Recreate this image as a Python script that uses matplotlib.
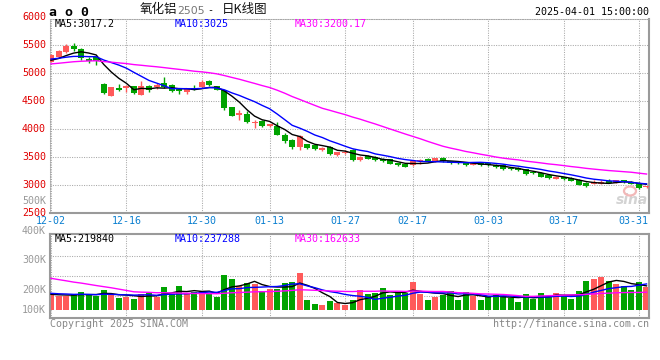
import numpy as np
import pandas as pd
import matplotlib
matplotlib.use("Agg")
import matplotlib.pyplot as plt
from matplotlib.transforms import blended_transform_factory
from matplotlib.patches import Ellipse

# ---------------- data ----------------
symbol_code = "a o 0"
title_name = "氧化铝"
title_code = "2505"
title_tail = "日K线图"
timestamp = "2025-04-01 15:00:00"

date_labels = ["12-02", "12-16", "12-30", "01-13", "01-27", "02-17", "03-03", "03-17", "03-31"]
date_label_index = [0, 10, 20, 29, 39, 48, 58, 68, 78]

price_ticks = [6000, 5500, 5000, 4500, 4000, 3500, 3000, 2500]
vol_tick_labels = ["500K", "400K", "300K", "200K", "100K"]

ma_price_text = ["MA5:3017.2", "MA10:3025", "MA30:3200.17"]
ma_vol_text = ["MA5:219840", "MA10:237288", "MA30:162633"]

# closes of the 29 sessions before the window (for moving averages)
prior_close = [5050, 5080, 5020, 5000, 5060, 5110, 5090, 5050, 5100, 5140,
               5180, 5150, 5120, 5160, 5200, 5170, 5130, 5180, 5220, 5190,
               5250, 5300, 5280, 5260, 5260, 5240, 5230, 5200, 5150]
prior_vol = [480e3, 450e3, 500e3, 430e3, 470e3, 460e3, 490e3, 440e3, 470e3, 480e3, 467e3,
             240e3, 210e3, 230e3, 200e3, 220e3, 250e3, 190e3, 223e3, 210e3,
             170e3, 150e3, 180e3, 155e3, 155e3,
             150e3, 140e3, 152e3, 140e3]

opens = [5205, 5281, 5376, 5488, 5423, 5252, 5281, 4809, 4596, 4738,
         4726, 4761, 4614, 4761, 4749, 4820, 4791, 4714, 4655, 4740,
         4749, 4850, 4761, 4690, 4395, 4259, 4277, 4111, 4141, 4052,
         4064, 3904, 3804, 3686, 3727, 3709, 3627, 3686, 3544, 3580,
         3627, 3449, 3520, 3508, 3473, 3461, 3390, 3372, 3355, 3428,
         3471, 3424, 3483, 3424, 3412, 3412, 3365, 3400, 3388, 3365,
         3353, 3306, 3306, 3282, 3235, 3217, 3176, 3120, 3140, 3128,
         3095, 3047, 3030, 3024, 3070, 3045, 3090, 3060, 3040, 2965]
highs = [5335, 5410, 5518, 5541, 5450, 5290, 5305, 4815, 4755, 4800,
         4790, 4775, 4850, 4790, 4820, 4927, 4810, 4730, 4730, 4790,
         4880, 4870, 4775, 4702, 4400, 4345, 4320, 4170, 4160, 4100,
         4123, 3934, 3828, 3887, 3740, 3720, 3680, 3700, 3600, 3630,
         3640, 3520, 3535, 3520, 3490, 3470, 3400, 3385, 3440, 3473,
         3485, 3490, 3495, 3440, 3425, 3420, 3410, 3410, 3395, 3375,
         3365, 3320, 3320, 3290, 3245, 3230, 3185, 3165, 3150, 3140,
         3110, 3060, 3085, 3100, 3110, 3095, 3100, 3070, 3050, 2990]
lows = [5195, 5270, 5352, 5400, 5230, 5175, 5150, 4635, 4590, 4680,
        4655, 4625, 4610, 4665, 4715, 4730, 4655, 4625, 4625, 4690,
        4730, 4770, 4690, 4347, 4230, 4170, 4110, 4023, 4040, 4040,
        3900, 3756, 3650, 3627, 3650, 3625, 3615, 3540, 3530, 3560,
        3440, 3440, 3460, 3440, 3420, 3375, 3345, 3320, 3345, 3378,
        3410, 3415, 3420, 3385, 3380, 3345, 3355, 3345, 3345, 3310,
        3275, 3270, 3255, 3190, 3195, 3145, 3110, 3105, 3095, 3070,
        3000, 2975, 3020, 3015, 3040, 3040, 3040, 3020, 2935, 2955]
closes = [5323, 5394, 5488, 5423, 5264, 5216, 5222, 4643, 4749, 4702,
          4773, 4643, 4773, 4702, 4791, 4749, 4684, 4673, 4714, 4702,
          4832, 4791, 4702, 4377, 4241, 4288, 4123, 4135, 4052, 4093,
          3904, 3786, 3686, 3875, 3668, 3638, 3668, 3550, 3591, 3600,
          3449, 3508, 3473, 3449, 3430, 3384, 3360, 3331, 3432, 3433,
          3424, 3483, 3424, 3400, 3388, 3353, 3400, 3353, 3353, 3317,
          3282, 3282, 3270, 3199, 3211, 3152, 3128, 3150, 3105, 3081,
          3010, 2985, 3060, 3060, 3049, 3085, 3050, 3030, 2945, 2976]
volumes = [138e3, 129e3, 129e3, 147e3, 165e3, 138e3, 129e3, 183e3, 138e3, 113e3,
           122e3, 102e3, 147e3, 160e3, 119e3, 210e3, 147e3, 219e3, 147e3, 162e3,
           174e3, 160e3, 119e3, 318e3, 282e3, 219e3, 246e3, 237e3, 174e3, 195e3,
           195e3, 246e3, 255e3, 336e3, 93e3, 57e3, 48e3, 84e3, 69e3, 48e3,
           93e3, 183e3, 147e3, 160e3, 201e3, 138e3, 156e3, 156e3, 255e3, 147e3,
           93e3, 120e3, 138e3, 174e3, 93e3, 165e3, 129e3, 93e3, 120e3, 138e3,
           129e3, 110e3, 75e3, 147e3, 101e3, 156e3, 129e3, 156e3, 138e3, 101e3,
           170e3, 260e3, 278e3, 300e3, 266e3, 240e3, 215e3, 180e3, 255e3, 209e3]

# ---------------- colours / layout ----------------
UP = "#ff5a5a"
DOWN = "#00a300"
MA_COLORS = ["#000000", "#0000ff", "#ff00ff"]
GRID = "#a8a8a8"
FRAME = "#9a9a9a"
FONT = "DejaVu Sans Mono"
FS = 7.2

W, H = 660, 360
fig = plt.figure(figsize=(W / 100, H / 100), dpi=100)
fig.patch.set_facecolor("white")

def fx(px):
    return px / W

def fy(py):
    return 1 - py / H

# pixel geometry
P_L, P_R = 50, 649
M_T, M_B = 18.7, 213.3
V_T, V_B = 234, 317.7

ax = fig.add_axes([fx(P_L), fy(M_B), fx(P_R) - fx(P_L), fy(M_T) - fy(M_B)])
axv = fig.add_axes([fx(P_L), fy(V_B), fx(P_R) - fx(P_L), fy(V_T) - fy(V_B)], sharex=ax)

n = len(closes)
x = np.arange(n)
o = np.array(opens, float)
c = np.array(closes, float)
h = np.array(highs, float)
l = np.array(lows, float)
v = np.array(volumes, float)
up = c >= o
cols = np.where(up, UP, DOWN)

# x scale
ax.set_xlim(-0.13, n - 1 + 0.33)

# ---- price panel ----
ax.set_ylim(2500, 5969)
for yv in price_ticks[1:-1]:
    ax.axhline(yv, color=GRID, lw=0.75, ls=(0, (1, 1.3)), zorder=0)
for xi in date_label_index:
    ax.axvline(xi, color=GRID, lw=0.75, ls=(0, (1, 1.3)), zorder=0)
    axv.axvline(xi, color=GRID, lw=0.75, ls=(0, (1, 1.3)), zorder=0)

body_lo = np.minimum(o, c)
body_h = np.maximum(np.abs(c - o), 14)
ax.vlines(x, l, h, colors=cols, lw=1.0, zorder=2)
ax.bar(x, body_h, bottom=body_lo, width=0.8, color=cols, lw=0, zorder=3)

all_c = pd.Series(prior_close + closes, dtype=float)
for win, col in zip([5, 10, 30], MA_COLORS):
    ma = all_c.rolling(win).mean().values[-n:]
    ax.plot(x, ma, color=col, lw=1.0, zorder=4)

# ---- volume panel ----
vpx = 9.0e3  # volume per pixel
v_lo = -(V_B - 310.3) * vpx
v_hi = (310.3 - V_T) * vpx
axv.set_ylim(v_lo, v_hi)
for gpy in (255.7, 275.7, 295.7):
    axv.axhline((310.3 - gpy) * vpx, color=GRID, lw=0.75, ls=(0, (1, 1.3)), zorder=0)
axv.bar(x, v, width=0.8, color=cols, lw=0, zorder=2)
all_v = pd.Series(prior_vol + volumes, dtype=float)
for win, col in zip([5, 10, 30], MA_COLORS):
    ma = all_v.rolling(win).mean().values[-n:]
    axv.plot(x, ma, color=col, lw=1.0, zorder=4)

# frames
for a in (ax, axv):
    a.set_xticks([])
    a.set_yticks([])
    a.set_facecolor("white")
for s in ("left", "top"):
    ax.spines[s].set_color(GRID)
    ax.spines[s].set_linestyle((0, (1, 1.3)))
    ax.spines[s].set_linewidth(0.75)
for s in ("right", "bottom"):
    ax.spines[s].set_color(FRAME)
    ax.spines[s].set_linewidth(1.5)
for s in axv.spines.values():
    s.set_color(FRAME)
    s.set_linewidth(1.5)

# ---- texts ----
def ptext(px, py, s, **kw):
    kw.setdefault("family", FONT)
    kw.setdefault("fontsize", FS)
    fig.text(fx(px), fy(py), s, **kw)

# price labels
tr = blended_transform_factory(fig.transFigure, ax.transData)
for pv in price_ticks:
    ax.text(fx(46), pv, str(pv), transform=tr, ha="right", va="center",
            color="#e00000", family=FONT, fontsize=FS, clip_on=False)

# volume labels (placed where the original draws them)
for lab, py in zip(vol_tick_labels, [200.7, 230.7, 260, 290, 310]):
    ptext(46, py, lab, ha="right", va="center", color="#999999")

# date labels
trd = blended_transform_factory(ax.transData, fig.transFigure)
for lab, xi in zip(date_labels, date_label_index):
    if xi == date_label_index[-1]:
        ptext(648, 221, lab, ha="right", va="center", color="#0a7fd0")
    else:
        ax.text(xi, fy(221), lab, transform=trd, ha="center", va="center",
                color="#0a7fd0", family=FONT, fontsize=FS, clip_on=False)

# MA legends
for s, px, col in zip(ma_price_text, [55, 174.5, 295], MA_COLORS):
    ptext(px, 24, s, ha="left", va="center", color=col)
for s, px, col in zip(ma_vol_text, [55, 174.5, 295], MA_COLORS):
    ptext(px, 239, s, ha="left", va="center", color=col)

# header
ptext(49, 12, symbol_code, ha="left", va="center", color="#000000",
      fontsize=9.5, fontweight="bold", family="DejaVu Sans Mono")
ptext(140, 10, title_name, ha="left", va="center", color="#111111",
      fontsize=9, family=["Noto Sans CJK SC", "DejaVu Sans"])
ptext(177, 11, title_code, ha="left", va="center", color="#777777",
      fontsize=7.8, family="DejaVu Sans")
ptext(207, 10.5, "-", ha="left", va="center", color="#111111")
ptext(222, 10, title_tail, ha="left", va="center", color="#111111",
      fontsize=9, family=["Noto Sans CJK SC", "DejaVu Sans"])
ptext(649, 12.3, timestamp, ha="right", va="center", color="#000000")

# footer
ptext(50, 324, "Copyright 2025 SINA.COM", ha="left", va="center", color="#888888")
ptext(649, 324, "http://finance.sina.com.cn", ha="right", va="center", color="#888888")

# watermark
fig.patches.append(Ellipse((fx(630), fy(191)), 12 / W, 9 / H, transform=fig.transFigure,
                           fill=False, ec="#f2b8b8", lw=1.6, zorder=5))
ptext(632, 200, "sina", ha="center", va="center", color="#c8c8c8",
      fontsize=10, fontweight="bold", style="italic", family="DejaVu Sans", alpha=0.8)

fig.savefig("out.png", dpi=100, facecolor="white")
